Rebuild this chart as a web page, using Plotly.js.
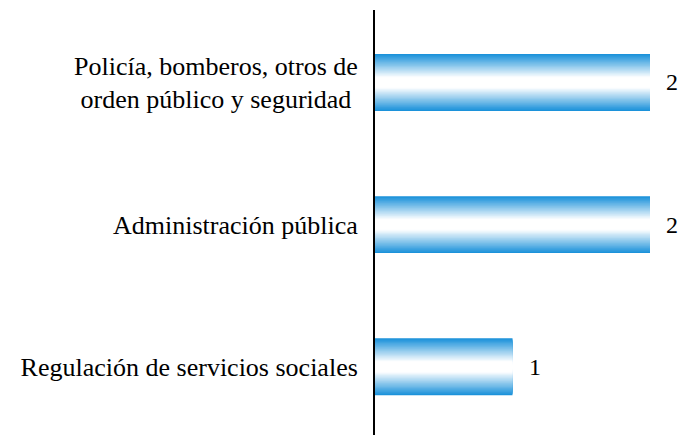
<!DOCTYPE html>
<html>
<head>
<meta charset="utf-8">
<script src="https://cdn.plot.ly/plotly-3.0.1.min.js"></script>
<style>html,body{margin:0;padding:0;background:#fff;}</style>
</head>
<body>
<div id="chart" style="width:685px;height:435px;"></div>
<script>
// Data (bottom to top)
const categories = [
  "Regulación de servicios sociales",
  "Administración pública",
  "Policía, bomberos, otros de<br>orden público y seguridad&nbsp;"
];
const values = [1, 2, 2];
const valueLabels = ["1", "2", "2"];

const FONT = "Liberation Serif";

// Gradient emulation: overlaid bars of decreasing thickness, blue edge -> white core
const blue = [28, 146, 218];
const white = [255, 255, 255];
const N = 24;
const fullWidth = 0.40;
const traces = [];
for (let k = 0; k < N; k++) {
  const t = Math.min(1, k / (N * 0.8));
  const c = blue.map((b, i) => Math.round(b + (white[i] - b) * t));
  traces.push({
    type: 'bar',
    orientation: 'h',
    y: categories,
    x: values,
    width: fullWidth * (1 - k / N),
    marker: {color: `rgb(${c[0]},${c[1]},${c[2]})`, line: {width: 0}},
    hoverinfo: 'skip',
    showlegend: false
  });
}

const annotations = categories.map((cat, i) => ({
  x: values[i], y: cat, xref: 'x', yref: 'y',
  text: valueLabels[i], showarrow: false,
  xanchor: 'left', xshift: 14,
  font: {family: FONT, size: 24, color: '#000'}
}));

const layout = {
  width: 685, height: 435,
  margin: {l: 375, r: 35, t: 10, b: 0},
  paper_bgcolor: '#fff', plot_bgcolor: '#fff',
  barmode: 'overlay',
  showlegend: false,
  font: {family: FONT, size: 26, color: '#000'},
  xaxis: {range: [0, 2], visible: false, showgrid: false, zeroline: false, fixedrange: true},
  yaxis: {
    type: 'category',
    range: [-0.48, 2.51],
    showline: true, linecolor: '#000', linewidth: 2,
    showgrid: false, zeroline: false, ticks: '',
    ticklabelstandoff: 10,
    tickfont: {family: FONT, size: 26, color: '#000'}
  },
  annotations: annotations
};

Plotly.newPlot('chart', traces, layout, {displayModeBar: false, staticPlot: true});
</script>
</body>
</html>
